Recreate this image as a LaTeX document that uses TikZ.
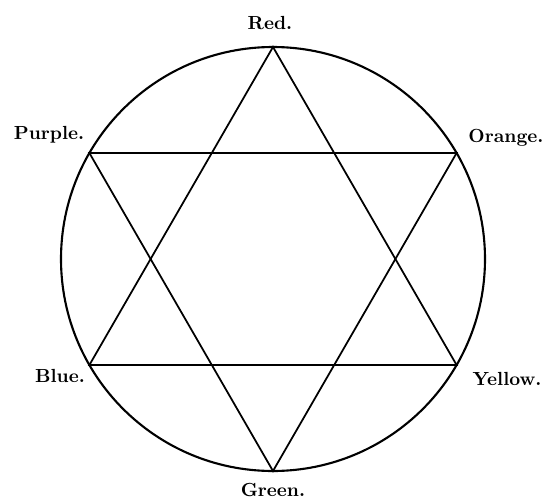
\documentclass[tikz,border=0pt]{standalone}
\usepackage{tikz}

\begin{document}
\begin{tikzpicture}[every node/.style={font=\fontsize{10.8}{13}\selectfont\bfseries}]
  \useasboundingbox (-5.46,-4.80) rectangle (5.42,5.18);
  % circle of colours with two triangles inside
  \draw[line width=1.2pt] (0,0) circle (4.24);
  \foreach \n/\a in {r/90, o/30, y/-30, g/-90, b/-150, p/150} {
    \coordinate (\n) at (\a:4.24);
  }
  \draw[line width=1pt] (r)--(y)--(b)--cycle;
  \draw[line width=1pt] (o)--(g)--(p)--cycle;
  \node (red) at (-0.06,4.72) {Red.};
  \node (orange) at (4.66,2.42) {Orange.};
  \node (yellow) at (4.68,-2.40) {Yellow.};
  \node (green) at (0,-4.62) {Green.};
  \node (blue) at (-4.26,-2.34) {Blue.};
  \node (purple) at (-4.48,2.48) {Purple.};
\end{tikzpicture}
\end{document}
